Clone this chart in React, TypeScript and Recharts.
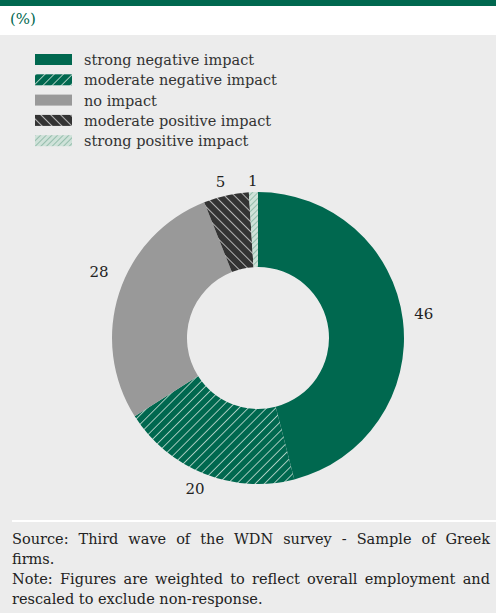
import React from "react";
import { PieChart, Pie, Cell } from "recharts";

const categories = [
  "strong negative impact",
  "moderate negative impact",
  "no impact",
  "moderate positive impact",
  "strong positive impact",
];
const shares = [46, 20, 28, 5, 1];
const fills = [
  "#00684f",
  "url(#hatchGreen)",
  "#999999",
  "url(#hatchDark)",
  "url(#hatchLight)",
];

const sourceLines = [
  "Source: Third wave of the WDN survey - Sample of Greek",
  "firms.",
  "Note: Figures are weighted to reflect overall employment and",
  "rescaled to exclude non-response.",
];

const data = categories.map((name, i) => ({ name, value: shares[i] }));

// small nudges so labels sit where the original placed them
const labelNudge = [
  [4, -4],
  [-3, -1],
  [-4, -16],
  [-2, 3],
  [0, 6],
];

const SERIF = "'DejaVu Serif', 'Noto Serif', serif";
const RADIAN = Math.PI / 180;

const renderLabel = (props: any) => {
  const { cx, cy, midAngle, outerRadius, value, index } = props;
  const r = outerRadius + 17;
  const [nx, ny] = labelNudge[index] || [0, 0];
  const x = cx + r * Math.cos(-midAngle * RADIAN) + nx;
  const y = cy + r * Math.sin(-midAngle * RADIAN) + ny;
  return (
    <text
      x={x}
      y={y}
      textAnchor="middle"
      dominantBaseline="central"
      fill="#222"
      fontSize={15}
      fontFamily={SERIF}
    >
      {value}
    </text>
  );
};

const Patterns = () => (
  <svg width={0} height={0} style={{ position: "absolute" }}>
    <defs>
      <pattern id="hatchGreen" patternUnits="userSpaceOnUse" width={6.5} height={6.5} patternTransform="rotate(45)">
        <rect width={6.5} height={6.5} fill="#00684f" />
        <line x1={0} y1={0} x2={0} y2={6.5} stroke="#d8e8e0" strokeWidth={1.5} />
      </pattern>
      <pattern id="hatchDark" patternUnits="userSpaceOnUse" width={7} height={7} patternTransform="rotate(-45)">
        <rect width={7} height={7} fill="#333333" />
        <line x1={0} y1={0} x2={0} y2={7} stroke="#e0e0e0" strokeWidth={1.5} />
      </pattern>
      <pattern id="hatchLight" patternUnits="userSpaceOnUse" width={4} height={4} patternTransform="rotate(45)">
        <rect width={4} height={4} fill="#cfe2d9" />
        <line x1={0} y1={0} x2={0} y2={4} stroke="#6da58e" strokeWidth={1.2} />
      </pattern>
    </defs>
  </svg>
);

export default function App() {
  return (
    <div
      style={{
        position: "absolute",
        left: 0,
        top: 0,
        width: 496,
        height: 613,
        background: "#ececec",
        fontFamily: SERIF,
        overflow: "hidden",
      }}
    >
      <Patterns />
      <div style={{ position: "absolute", left: 0, top: 0, width: 496, height: 6, background: "#00684f" }} />
      <div style={{ position: "absolute", left: 0, top: 6, width: 496, height: 29, background: "#ffffff" }} />
      <div
        style={{
          position: "absolute",
          left: 10,
          top: 10,
          fontSize: 15,
          color: "#00684f",
        }}
      >
        (%)
      </div>

      <svg style={{ position: "absolute", left: 0, top: 45 }} width={300} height={110}>
        {categories.map((c, i) => (
          <g key={c}>
            <rect x={35} y={9 + i * 20.3} width={37} height={11} fill={fills[i]} />
            <text
              x={84}
              y={15 + i * 20.3}
              dominantBaseline="central"
              fontSize={14.5}
              fill="#333"
              fontFamily={SERIF}
            >
              {c}
            </text>
          </g>
        ))}
      </svg>

      <div style={{ position: "absolute", left: 0, top: 150 }}>
        <PieChart width={496} height={370}>
          <Pie
            data={data}
            dataKey="value"
            nameKey="name"
            cx={253}
            cy={183}
            innerRadius={71}
            outerRadius={146}
            startAngle={90}
            endAngle={-270}
            stroke="none"
            label={renderLabel}
            labelLine={false}
            isAnimationActive={false}
          >
            {data.map((d, i) => (
              <Cell key={d.name} fill={fills[i]} />
            ))}
          </Pie>
        </PieChart>
      </div>

      <div style={{ position: "absolute", left: 12, top: 520, width: 484, height: 2, background: "#ffffff" }} />

      <div
        style={{
          position: "absolute",
          left: 12,
          top: 529,
          width: 478,
          fontSize: 14.5,
          lineHeight: "20px",
          color: "#222",
        }}
      >
        {sourceLines.map((line, i) => (
          <div
            key={i}
            style={{
              textAlign: "justify",
              textAlignLast: i === 0 || i === 2 ? "justify" : "left",
              whiteSpace: "nowrap",
            }}
          >
            {line}
          </div>
        ))}
      </div>
    </div>
  );
}
